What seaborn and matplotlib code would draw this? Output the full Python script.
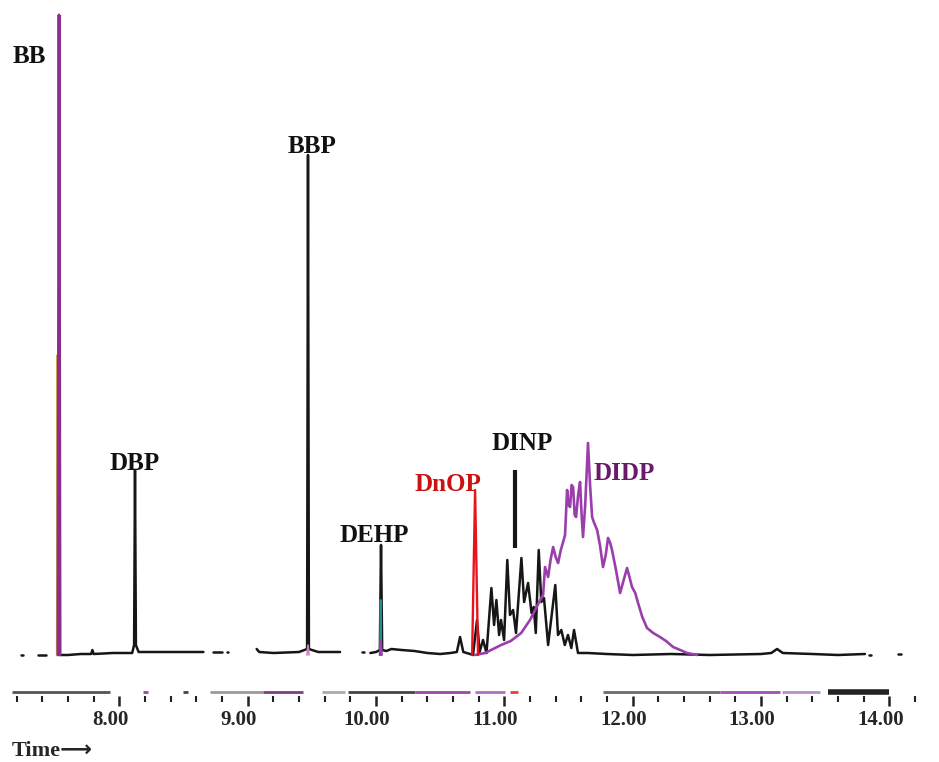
import numpy as np
import pandas as pd
import matplotlib
matplotlib.use("Agg")
import matplotlib.pyplot as plt
import matplotlib.transforms as mtransforms
import seaborn as sns

sns.set_style("white")
plt.rcParams["font.family"] = ["Liberation Serif", "DejaVu Serif"]

# ---- data (time in min, signal in arbitrary units) ----

# black trace, one list per unbroken piece of the printed line
black_time = [
    [7.23, 7.25],
    [7.37, 7.43],
    [7.545, 7.60, 7.70, 7.78, 7.79, 7.80, 7.95, 8.10, 8.115, 8.122, 8.129, 8.15,
     8.30, 8.45, 8.655],
    [8.73, 8.80],
    [8.84, 8.85],
    [9.07, 9.09, 9.20, 9.40, 9.463, 9.470, 9.477, 9.55, 9.72],
    [9.89, 9.91],
    [9.956, 10.00, 10.030, 10.039, 10.048, 10.08, 10.12, 10.20, 10.30, 10.40,
     10.50, 10.58, 10.630, 10.655, 10.680, 10.733, 10.756, 10.787, 10.807,
     10.834, 10.861, 10.899, 10.920, 10.938, 10.959, 10.974, 10.998, 11.023,
     11.044, 11.068, 11.091, 11.133, 11.154, 11.185, 11.212, 11.229, 11.245,
     11.268, 11.288, 11.309, 11.341, 11.397, 11.418, 11.444, 11.471, 11.496,
     11.522, 11.543, 11.574, 11.65, 11.80, 12.00, 12.30, 12.60, 13.00, 13.08,
     13.125, 13.17, 13.40, 13.60, 13.81],
    [13.84, 13.86],
    [14.07, 14.09],
]
black_signal = [
    [0, 0],
    [0, 0],
    [0, 0, 1, 1, 5, 1, 2, 2, 10, 185, 10, 3, 3, 3, 3],
    [3, 3],
    [3, 3],
    [6, 3, 2, 3, 6, 500, 6, 3, 3],
    [3, 3],
    [2, 3, 5, 110, 5, 4, 6, 5, 4, 2,
     1, 2, 3, 18, 3, 1, 0, 35, 3,
     15, 2, 67, 30, 55, 20, 35, 15, 95,
     40, 45, 22, 97, 53, 72, 42, 48, 22,
     105, 53, 57, 10, 70, 20, 25, 10, 20,
     7, 25, 2, 2, 1, 0, 1, 0, 1, 2,
     6, 2, 1, 0, 1],
    [0, 0],
    [1, 1],
]

# DIDP (purple) trace
didp_time = [10.772, 10.85, 10.975, 11.05, 11.131, 11.20, 11.240, 11.28, 11.302,
             11.317, 11.341, 11.360, 11.380, 11.400, 11.419, 11.440, 11.458, 11.473,
             11.489, 11.500, 11.512, 11.524, 11.536, 11.548, 11.559, 11.575, 11.590,
             11.602, 11.613, 11.630, 11.652, 11.668, 11.684, 11.700, 11.723, 11.745,
             11.769, 11.790, 11.808, 11.825, 11.839, 11.870, 11.902, 11.930, 11.956,
             11.975, 11.995, 12.020, 12.042, 12.075, 12.112, 12.16, 12.213, 12.26,
             12.315, 12.37, 12.424, 12.502]
didp_signal = [0, 2, 10, 14, 22, 35, 45, 55, 60,
               88, 78, 95, 108, 98, 92, 105, 113, 120,
               165, 150, 148, 170, 168, 140, 138, 160, 173,
               140, 118, 150, 212, 170, 138, 132, 125, 110,
               88, 100, 117, 112, 105, 85, 62, 75, 87,
               78, 68, 62, 52, 38, 27, 22, 18, 14,
               8, 5, 2, 0]

# BB (purple and olive traces)
bb_time = [7.522, 7.530, 7.538]
bb_signal = [0, 640, 0]
bb2_time = [7.512, 7.517, 7.522]
bb2_signal = [0, 300, 0]

# DnOP (red trace)
dnop_time = [10.749, 10.772, 10.795]
dnop_signal = [0, 165, 0]

# small coloured traces under DEHP and BBP
dehp_teal_time = [10.031, 10.036, 10.041]
dehp_teal_signal = [0, 55, 0]
dehp_purple_time = [10.028, 10.037, 10.046]
dehp_purple_signal = [0, 15, 0]
bbp_pink_time = [9.462, 9.470, 9.478]
bbp_pink_signal = [0, 10, 0]

# DINP marker bar
dinp_bar_time = 11.084
dinp_bar_low, dinp_bar_high = 107, 185

# peak labels and the apex they belong to
peak_names = ["BB", "DBP", "BBP", "DEHP", "DnOP", "DINP", "DIDP"]
peak_times = [7.530, 8.122, 9.470, 10.039, 10.779, 11.084, 11.652]
peak_heights = [640, 185, 500, 110, 165, 185, 212]

# scan-strip pieces under the trace
strip_start = [7.164, 8.186, 8.497, 8.707, 9.120, 9.580, 9.782, 10.304, 10.772,
               11.045, 11.769, 12.681, 13.164, 13.522]
strip_end = [7.928, 8.225, 8.536, 9.120, 9.432, 9.759, 10.304, 10.733, 11.006,
             11.107, 12.681, 13.148, 13.460, 13.997]

major_ticks = [8, 9, 10, 11, 12, 13, 14]
minor_ticks = np.arange(7.2, 14.21, 0.2)

# ---- styling ----
black = "#161616"
purple = "#9a3eab"
strip_colors = ["#555555", "#9a4aa0", "#444444", "#9a9a9a", "#7b3f7f", "#aaaaaa",
                "#444444", "#9a4aa0", "#b070c0", "#e04040", "#6a6a6a", "#a050b0",
                "#b890c8", "#222222"]
strip_widths = [2] * 13 + [4]
label_colors = ["#111111", "#111111", "#111111", "#111111", "#cc1111", "#111111", "#6a1a6a"]
label_offsets = [(-21, -30), (0, 5), (3, 6), (-5, 7), (-20, 4), (5, 19), (26, -22)]


def to_frame(times, signals):
    parts = []
    for k, (t, s) in enumerate(zip(times, signals)):
        parts.append(pd.DataFrame({"time": t, "signal": s, "segment": k}))
    return pd.concat(parts, ignore_index=True)


fig = plt.figure(figsize=(9.39, 7.62), dpi=100)
ax = fig.add_axes([0, 0, 1, 1])
ax.set_xlim(7.070, 14.387)
ax.set_ylim(-107, 655)

kw = dict(x="time", y="signal", units="segment", estimator=None, sort=False,
          ax=ax, legend=False)

sns.lineplot(data=to_frame([bb2_time], [bb2_signal]), color="#c8a040", lw=1.2, **kw)
sns.lineplot(data=to_frame(black_time, black_signal), color=black, lw=1.8, **kw)
sns.lineplot(data=to_frame([didp_time], [didp_signal]), color=purple, lw=1.9, **kw)
sns.lineplot(data=to_frame([bb_time], [bb_signal]), color="#8b2c8f", lw=2.1, **kw)
sns.lineplot(data=to_frame([dnop_time], [dnop_signal]), color="#e8141c", lw=1.7, **kw)
sns.lineplot(data=to_frame([dehp_teal_time], [dehp_teal_signal]), color="#1f8f8f", lw=1.4, **kw)
sns.lineplot(data=to_frame([dehp_purple_time], [dehp_purple_signal]), color=purple, lw=1.4, **kw)
sns.lineplot(data=to_frame([bbp_pink_time], [bbp_pink_signal]), color="#d080c0", lw=1.2, **kw)

ax.vlines(dinp_bar_time, dinp_bar_low, dinp_bar_high, color=black, lw=3)

# broken coloured strip under the trace
ax.hlines([-37] * len(strip_start), strip_start, strip_end, colors=strip_colors,
          lw=strip_widths)

for name, t, h, col, off in zip(peak_names, peak_times, peak_heights, label_colors, label_offsets):
    ax.annotate(name, xy=(t, h), xytext=off, textcoords="offset points",
                ha="center", va="center", fontsize=18, fontweight="bold", color=col)

# time axis
for side in ["left", "right", "top"]:
    ax.spines[side].set_visible(False)
ax.spines["bottom"].set_position(("data", -41))
ax.spines["bottom"].set_color("none")
ax.set_yticks([])
ax.set_xticks(major_ticks)
ax.set_xticklabels([f"{v:.2f}" for v in major_ticks], fontweight="bold")
ax.set_xticks(minor_ticks, minor=True)
ax.tick_params(axis="x", which="both", bottom=True, direction="out")
ax.tick_params(axis="x", which="major", length=7, width=1.8,
               color="#222222", pad=3, labelsize=15)
ax.tick_params(axis="x", which="minor", length=4.5, width=1.5,
               color="#222222")
ax.set_xlabel("")
ax.set_ylabel("")

shift = mtransforms.ScaledTranslation(-9 / 100, 0, fig.dpi_scale_trans)
for tick in ax.xaxis.get_major_ticks():
    tick.label1.set_transform(tick.label1.get_transform() + shift)

# "Time" in the serif face, the long arrow falls back to DejaVu Sans
fig.text(12 / 939, 1 - 751 / 762, "Time\u27f6", fontsize=16, fontweight="bold",
         family=["Liberation Serif", "DejaVu Sans"], ha="left", va="center")

fig.savefig("out.png", dpi=100, facecolor="white")
